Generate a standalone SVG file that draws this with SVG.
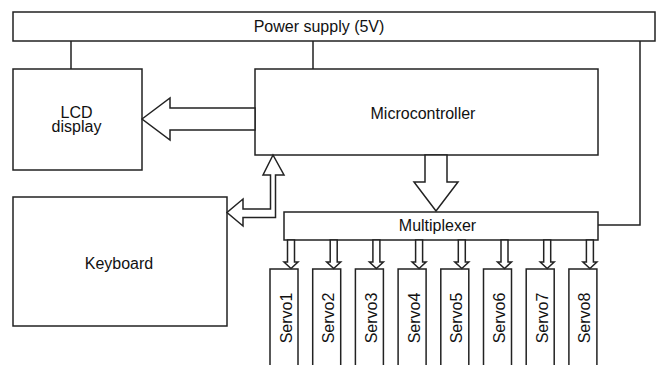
<svg xmlns="http://www.w3.org/2000/svg" width="661" height="365" viewBox="0 0 661 365">
<style>
.box{fill:#fff;stroke:#222;stroke-width:1.5}
.wire{fill:none;stroke:#222;stroke-width:1.5}
.arr{fill:#fff;stroke:#222;stroke-width:1.5;stroke-linejoin:miter}
.t{font-family:"Liberation Sans",Arial,sans-serif;font-size:16px;fill:#111;text-anchor:middle}
</style>
<rect width="661" height="365" fill="#fff"/>
<g id="connectors">
<path class="wire" d="M71,41V69M313,41V69M640,41V225H598"/>
</g>
<g id="power"><rect class="box" x="13" y="12" width="642" height="29"/><text class="t" x="319" y="32">Power supply (5V)</text></g>
<g id="lcd"><rect class="box" x="13" y="69" width="129" height="101"/><text class="t" x="76.5" y="118">LCD</text><text class="t" x="76.5" y="132">display</text></g>
<g id="micro"><rect class="box" x="255" y="69" width="343" height="86"/><text class="t" x="423" y="118.5">Microcontroller</text></g>
<g id="keyboard"><rect class="box" x="13" y="197" width="214" height="129"/><text class="t" x="119" y="269">Keyboard</text></g>
<g id="mux"><rect class="box" x="284" y="212" width="314" height="28"/><text class="t" x="437.5" y="231">Multiplexer</text></g>
<g id="arrows">
<polygon class="arr" points="142,119 170,98 170,108 255,108 255,130 170,130 170,140"/>
<polygon class="arr" points="425,155 447,155 447,182 458,182 436,211 414,182 425,182"/>
<polygon class="arr" points="273,155 284,175 275.5,175 275.5,217.5 243,217.5 243,226 227,212.5 243,199 243,209 270.5,209 270.5,175 263,175"/>
</g>
<g id="servo1"><rect class="box" x="270" y="269" width="28" height="110"/><text class="t" x="291.5" y="318" transform="rotate(-90 291.5 318)">Servo1</text></g>
<g id="servo2"><rect class="box" x="312.7" y="269" width="28" height="110"/><text class="t" x="334.2" y="318" transform="rotate(-90 334.2 318)">Servo2</text></g>
<g id="servo3"><rect class="box" x="355.4" y="269" width="28" height="110"/><text class="t" x="376.9" y="318" transform="rotate(-90 376.9 318)">Servo3</text></g>
<g id="servo4"><rect class="box" x="398.1" y="269" width="28" height="110"/><text class="t" x="419.6" y="318" transform="rotate(-90 419.6 318)">Servo4</text></g>
<g id="servo5"><rect class="box" x="440.8" y="269" width="28" height="110"/><text class="t" x="462.3" y="318" transform="rotate(-90 462.3 318)">Servo5</text></g>
<g id="servo6"><rect class="box" x="483.5" y="269" width="28" height="110"/><text class="t" x="505" y="318" transform="rotate(-90 505 318)">Servo6</text></g>
<g id="servo7"><rect class="box" x="526.2" y="269" width="28" height="110"/><text class="t" x="547.7" y="318" transform="rotate(-90 547.7 318)">Servo7</text></g>
<g id="servo8"><rect class="box" x="568.9" y="269" width="28" height="110"/><text class="t" x="590.4" y="318" transform="rotate(-90 590.4 318)">Servo8</text></g>
<g id="servo-arrows">
<polygon class="arr" points="287.5,240 294.5,240 294.5,262 298,262 291,268.5 284,262 287.5,262"/>
<polygon class="arr" points="330.2,240 337.2,240 337.2,262 340.7,262 333.7,268.5 326.7,262 330.2,262"/>
<polygon class="arr" points="372.9,240 379.9,240 379.9,262 383.4,262 376.4,268.5 369.4,262 372.9,262"/>
<polygon class="arr" points="415.6,240 422.6,240 422.6,262 426.1,262 419.1,268.5 412.1,262 415.6,262"/>
<polygon class="arr" points="458.3,240 465.3,240 465.3,262 468.8,262 461.8,268.5 454.8,262 458.3,262"/>
<polygon class="arr" points="501,240 508,240 508,262 511.5,262 504.5,268.5 497.5,262 501,262"/>
<polygon class="arr" points="543.7,240 550.7,240 550.7,262 554.2,262 547.2,268.5 540.2,262 543.7,262"/>
<polygon class="arr" points="586.4,240 593.4,240 593.4,262 596.9,262 589.9,268.5 582.9,262 586.4,262"/>
</g>
</svg>
